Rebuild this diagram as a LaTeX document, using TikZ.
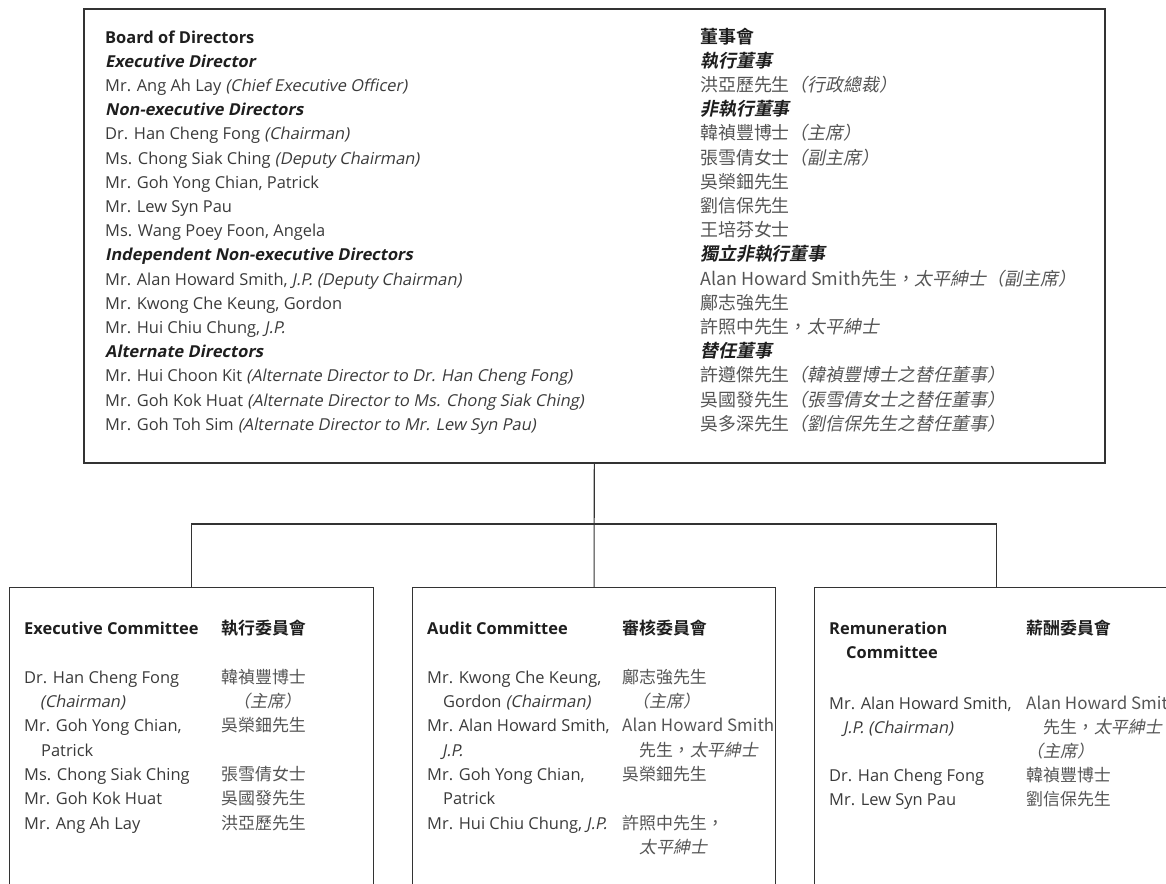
\documentclass[tikz,border=0pt]{standalone}
\usepackage{fontspec}
\setmainfont{Open Sans}[ItalicFont={Open Sans}, ItalicFeatures={FakeSlant=0.2}, BoldItalicFont={Open Sans Bold}, BoldItalicFeatures={FakeSlant=0.2}]
\newfontfamily\cjk{Noto Sans CJK TC}[ItalicFont={Noto Sans CJK TC}, ItalicFeatures={FakeSlant=0.2}, BoldFont={Noto Sans CJK TC Bold}, BoldItalicFont={Noto Sans CJK TC Bold}, BoldItalicFeatures={FakeSlant=0.2}]
\definecolor{engray}{HTML}{3A3A3A}
\definecolor{zhgray}{HTML}{555555}
\definecolor{headcol}{HTML}{1E1E1E}
\definecolor{linecol}{HTML}{333333}
\begin{document}
\begin{tikzpicture}[x=1bp,y=-1bp,
  en/.style={anchor=base west, inner sep=0pt, font=\fontsize{16.5}{20}\selectfont, text=engray},
  enh/.style={en, text=headcol},
  zh/.style={anchor=base west, inner sep=0pt, font=\cjk\fontsize{18}{20}\selectfont, text=zhgray},
  zhh/.style={zh, text=headcol},
  zs/.style={zh, font=\cjk\fontsize{17}{20}\selectfont},
  zsh/.style={zs, text=headcol},
  bigbox/.style={draw=linecol, line width=1.6bp, anchor=north west, inner sep=0pt, minimum width=1021bp, minimum height=454bp},
  smallbox/.style={draw=linecol, line width=1.1bp, anchor=north west, inner sep=0pt, minimum height=330bp},
  conn/.style={draw=linecol, line width=1.1bp}]
\useasboundingbox (0,0) rectangle (1166,884);
\clip (0,0) rectangle (1166,884);
% boxes
\node[bigbox] (board) at (83,8) {};
\node[smallbox, minimum width=364bp] (exec) at (9,587) {};
\node[smallbox, minimum width=363bp] (audit) at (412,587) {};
\node[smallbox, minimum width=364bp] (remun) at (814,587) {};
\coordinate (bar) at (593.5,524);
\draw[conn] (board.south) -- (audit.north);
\draw[conn] (exec.north) |- (bar) -| (remun.north);
% board english
\node[enh] (e1) at (105,43) {\textbf{Board of Directors}};
\node[enh] (e2) at (105,67.2) {\textbf{\textit{Executive Director}}};
\node[en] (e3) at (105,91.4) {Mr. Ang Ah Lay \textit{(Chief Executive Officer)}};
\node[enh] (e4) at (105,115.6) {\textbf{\textit{Non-executive Directors}}};
\node[en] (e5) at (105,139.8) {Dr. Han Cheng Fong \textit{(Chairman)}};
\node[en] (e6) at (105,164) {Ms. Chong Siak Ching \textit{(Deputy Chairman)}};
\node[en] (e7) at (105,188.2) {Mr. Goh Yong Chian, Patrick};
\node[en] (e8) at (105,212.4) {Mr. Lew Syn Pau};
\node[en] (e9) at (105,236.6) {Ms. Wang Poey Foon, Angela};
\node[enh] (e10) at (105,260.8) {\textbf{\textit{Independent Non-executive Directors}}};
\node[en] (e11) at (105,285) {Mr. Alan Howard Smith, \textit{J.P. (Deputy Chairman)}};
\node[en] (e12) at (105,309.2) {Mr. Kwong Che Keung, Gordon};
\node[en] (e13) at (105,333.4) {Mr. Hui Chiu Chung, \textit{J.P.}};
\node[enh] (e14) at (105,357.6) {\textbf{\textit{Alternate Directors}}};
\node[en] (e15) at (105,381.8) {Mr. Hui Choon Kit \textit{(Alternate Director to Dr. Han Cheng Fong)}};
\node[en] (e16) at (105,406) {Mr. Goh Kok Huat \textit{(Alternate Director to Ms. Chong Siak Ching)}};
\node[en] (e17) at (105,430.2) {Mr. Goh Toh Sim \textit{(Alternate Director to Mr. Lew Syn Pau)}};
% board chinese
\node[zhh] (z1) at (700,43) {\textbf{董事會}};
\node[zhh] (z2) at (700,67.2) {\textbf{\textit{執行董事}}};
\node[zh] (z3) at (700,91.4) {洪亞歷先生\textit{（行政總裁）}};
\node[zhh] (z4) at (700,115.6) {\textbf{\textit{非執行董事}}};
\node[zh] (z5) at (700,139.8) {韓禎豐博士\textit{（主席）}};
\node[zh] (z6) at (700,164) {張雪倩女士\textit{（副主席）}};
\node[zh] (z7) at (700,188.2) {吳榮鈿先生};
\node[zh] (z8) at (700,212.4) {劉信保先生};
\node[zh] (z9) at (700,236.6) {王培芬女士};
\node[zhh] (z10) at (700,260.8) {\textbf{\textit{獨立非執行董事}}};
\node[zh] (z11) at (700,285) {Alan Howard Smith先生，\textit{太平紳士（副主席）}};
\node[zh] (z12) at (700,309.2) {鄺志強先生};
\node[zh] (z13) at (700,333.4) {許照中先生，\textit{太平紳士}};
\node[zhh] (z14) at (700,357.6) {\textbf{\textit{替任董事}}};
\node[zh] (z15) at (700,381.8) {許遵傑先生\textit{（韓禎豐博士之替任董事）}};
\node[zh] (z16) at (700,406) {吳國發先生\textit{（張雪倩女士之替任董事）}};
\node[zh] (z17) at (700,430.2) {吳多深先生\textit{（劉信保先生之替任董事）}};
% executive committee
\node[enh] (xt) at (24,634) {\textbf{Executive Committee}};
\node[zsh] (xtz) at (221,634) {\textbf{執行委員會}};
\node[en] (x1) at (24,683) {Dr. Han Cheng Fong};
\node[zs] (x1z) at (221,683) {韓禎豐博士};
\node[en] (x2) at (40,707) {\textit{(Chairman)}};
\node[zs] (x2z) at (233,707) {\textit{（主席）}};
\node[en] (x3) at (24,731) {Mr. Goh Yong Chian,};
\node[zs] (x3z) at (221,731) {吳榮鈿先生};
\node[en] (x4) at (41,756) {Patrick};
\node[en] (x5) at (24,780) {Ms. Chong Siak Ching};
\node[zs] (x5z) at (221,780) {張雪倩女士};
\node[en] (x6) at (24,804) {Mr. Goh Kok Huat};
\node[zs] (x6z) at (221,804) {吳國發先生};
\node[en] (x7) at (24,829) {Mr. Ang Ah Lay};
\node[zs] (x7z) at (221,829) {洪亞歷先生};
% audit committee
\node[enh] (at) at (427,634) {\textbf{Audit Committee}};
\node[zsh] (atz) at (622,634) {\textbf{審核委員會}};
\node[en] (a1) at (427,683) {Mr. Kwong Che Keung,};
\node[zs] (a1z) at (622,683) {鄺志強先生};
\node[en] (a2) at (443,707) {Gordon \textit{(Chairman)}};
\node[zs] (a2z) at (632,707) {\textit{（主席）}};
\node[en] (a3) at (427,731) {Mr. Alan Howard Smith,};
\node[zs] (a3z) at (622,731) {Alan Howard Smith};
\node[en] (a4) at (442,756) {\textit{J.P.}};
\node[zs] (a4z) at (639,756) {先生，\textit{太平紳士}};
\node[en] (a5) at (427,780) {Mr. Goh Yong Chian,};
\node[zs] (a5z) at (622,780) {吳榮鈿先生};
\node[en] (a6) at (443,804) {Patrick};
\node[en] (a7) at (427,829) {Mr. Hui Chiu Chung, \textit{J.P.}};
\node[zs] (a7z) at (622,829) {許照中先生，};
\node[zs] (a8z) at (639,853) {\textit{太平紳士}};
% remuneration committee
\node[enh] (rt) at (829,634) {\textbf{Remuneration}};
\node[enh] (rt2) at (846,658) {\textbf{Committee}};
\node[zsh] (rtz) at (1026,634) {\textbf{薪酬委員會}};
\node[en] (r1) at (829,709) {Mr. Alan Howard Smith,};
\node[zs] (r1z) at (1026,709) {Alan Howard Smith};
\node[en] (r2) at (843,733) {\textit{J.P. (Chairman)}};
\node[zs] (r2z) at (1043,733) {先生，\textit{太平紳士}};
\node[zs] (r3z) at (1026,757) {\textit{（主席）}};
\node[en] (r4) at (829,781) {Dr. Han Cheng Fong};
\node[zs] (r4z) at (1026,781) {韓禎豐博士};
\node[en] (r5) at (829,805) {Mr. Lew Syn Pau};
\node[zs] (r5z) at (1026,805) {劉信保先生};
\end{tikzpicture}
\end{document}
